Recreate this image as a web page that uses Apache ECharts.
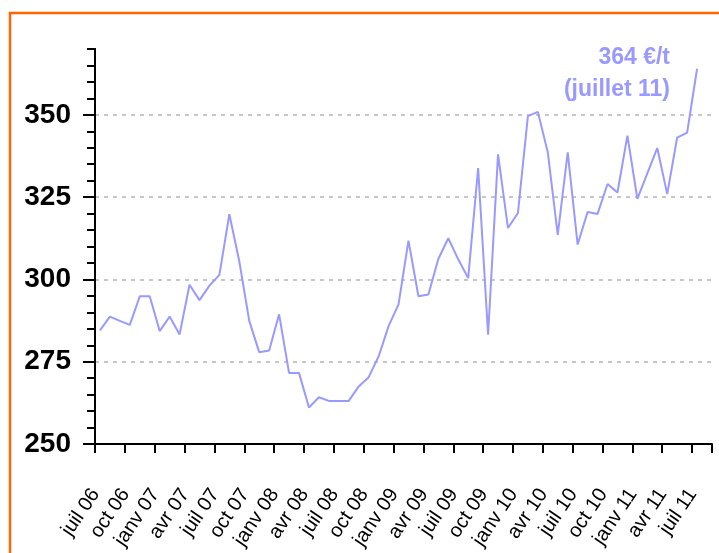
<!DOCTYPE html>
<html>
<head>
<meta charset="utf-8">
<script src="https://cdn.jsdelivr.net/npm/echarts@6/dist/echarts.min.js"></script>
<style>
  html, body { margin: 0; padding: 0; background: #fff; }
  #main { width: 719px; height: 553px; }
</style>
</head>
<body>
<div id="main"></div>
<script>
// mois, de juil 06 a aout 11 (la derniere case reste vide)
var months = [
  'juil 06', 'août 06', 'sept 06', 'oct 06', 'nov 06', 'déc 06',
  'janv 07', 'févr 07', 'mars 07', 'avr 07', 'mai 07', 'juin 07',
  'juil 07', 'août 07', 'sept 07', 'oct 07', 'nov 07', 'déc 07',
  'janv 08', 'févr 08', 'mars 08', 'avr 08', 'mai 08', 'juin 08',
  'juil 08', 'août 08', 'sept 08', 'oct 08', 'nov 08', 'déc 08',
  'janv 09', 'févr 09', 'mars 09', 'avr 09', 'mai 09', 'juin 09',
  'juil 09', 'août 09', 'sept 09', 'oct 09', 'nov 09', 'déc 09',
  'janv 10', 'févr 10', 'mars 10', 'avr 10', 'mai 10', 'juin 10',
  'juil 10', 'août 10', 'sept 10', 'oct 10', 'nov 10', 'déc 10',
  'janv 11', 'févr 11', 'mars 11', 'avr 11', 'mai 11', 'juin 11',
  'juil 11', 'août 11'
];

// prix en €/t
var prices = [
  284.5, 288.7, 287.4, 286.2, 294.9, 294.9, 284.3, 288.7, 283.3, 298.4,
  293.7, 298.1, 301.4, 319.8, 305.5, 287.4, 277.9, 278.4, 289.4, 271.6,
  271.6, 261.1, 264.2, 263.1, 263.1, 263.1, 267.5, 270.3, 276.6, 285.8,
  292.4, 311.8, 294.9, 295.4, 306.2, 312.5, 306.1, 300.4, 333.8, 283.2,
  338.0, 315.6, 320.2, 349.6, 350.9, 338.6, 313.5, 338.6, 310.6, 320.5,
  319.9, 329.0, 326.4, 343.7, 324.5, 332.2, 339.9, 325.9, 343.1, 344.6,
  364
];

var yMin = 250;
var yMax = 370;
var yTicks = [250, 275, 300, 325, 350];
var lastLabel = ['364 €/t', '(juillet 11)'];

var FONT = '"Liberation Sans", Arial, sans-serif';
var LINE_COLOR = '#9999ff';

var chart = echarts.init(document.getElementById('main'), null, { renderer: 'canvas' });

var option = {
  animation: false,
  backgroundColor: '#ffffff',
  grid: {
    left: 95,
    right: 7,
    top: 49,
    bottom: 109,
    containLabel: false,
    outerBoundsMode: 'none'
  },
  graphic: [
    {
      type: 'rect',
      shape: { x: 10, y: 13, width: 800, height: 700 },
      style: { fill: 'none', stroke: '#ff6600', lineWidth: 2.5 },
      silent: true
    },
    {
      type: 'text',
      x: 670,
      y: 58,
      style: {
        text: lastLabel[0],
        fill: LINE_COLOR,
        font: 'bold 23px ' + FONT,
        textAlign: 'right',
        textVerticalAlign: 'middle'
      }
    },
    {
      type: 'text',
      x: 670,
      y: 90,
      style: {
        text: lastLabel[1],
        fill: LINE_COLOR,
        font: 'bold 23px ' + FONT,
        textAlign: 'right',
        textVerticalAlign: 'middle'
      }
    }
  ],
  xAxis: {
    type: 'category',
    data: months,
    boundaryGap: true,
    axisLine: { lineStyle: { color: '#000', width: 2 } },
    axisTick: {
      show: true,
      interval: 2,
      length: 9,
      lineStyle: { color: '#000', width: 2 }
    },
    axisLabel: {
      interval: 2,
      rotate: 56,
      margin: 40,
      padding: [0, 8, 0, 0],
      color: '#000',
      fontSize: 20,
      fontFamily: FONT
    },
    splitLine: { show: false }
  },
  yAxis: [
    {
      // petites graduations tous les 5
      type: 'value',
      position: 'left',
      min: yMin,
      max: yMax,
      interval: 5,
      axisLine: { show: true, lineStyle: { color: '#000', width: 2 } },
      axisTick: { show: true, length: 8, lineStyle: { color: '#000', width: 2 } },
      axisLabel: { show: false },
      splitLine: { show: false }
    },
    {
      type: 'value',
      position: 'left',
      offset: 0,
      min: yMin,
      max: yMax,
      interval: 25,
      axisLine: { show: true, lineStyle: { color: '#000', width: 2 } },
      axisTick: {
        show: true,
        length: 12,
        customValues: yTicks,
        lineStyle: { color: '#000', width: 2 }
      },
      axisLabel: {
        customValues: yTicks,
        margin: 24,
        color: '#000',
        fontSize: 28,
        fontWeight: 'bold',
        fontFamily: FONT,
        formatter: function (v) {
          return yTicks.indexOf(v) >= 0 ? String(v) : '';
        }
      },
      splitLine: {
        show: true,
        showMinLine: false,
        showMaxLine: true,
        lineStyle: { color: '#b4b4b4', width: 1.6, type: [4, 5] }
      }
    }
  ],
  series: [
    {
      type: 'line',
      yAxisIndex: 0,
      data: prices,
      showSymbol: false,
      symbol: 'none',
      lineStyle: { color: LINE_COLOR, width: 2 },
      z: 5
    }
  ]
};

chart.setOption(option);
</script>
</body>
</html>
